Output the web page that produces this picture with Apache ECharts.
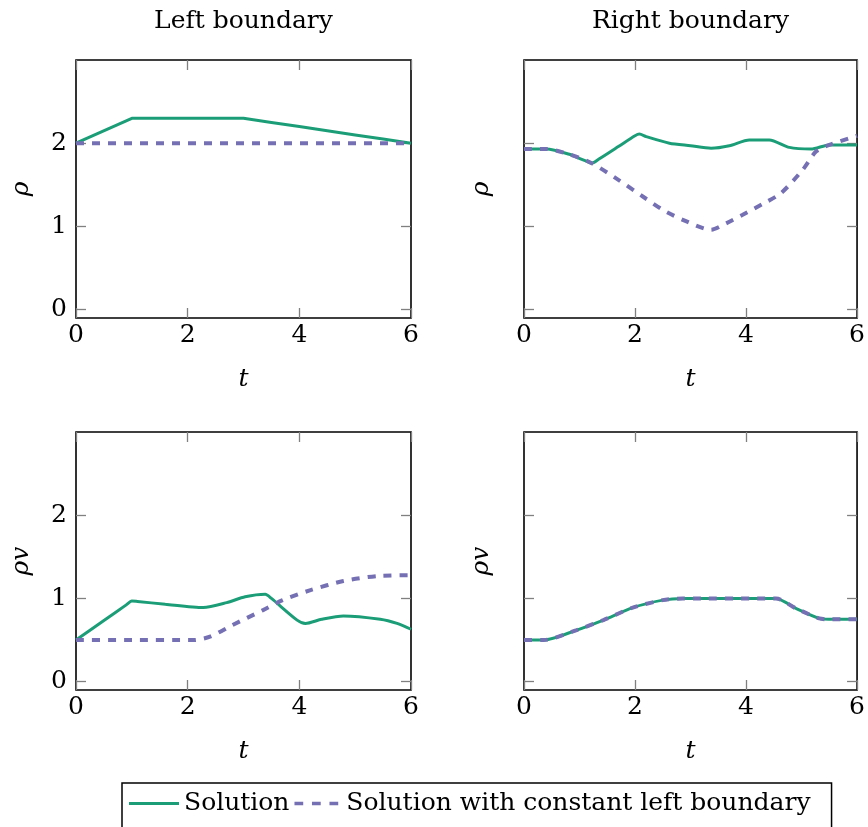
<!DOCTYPE html>
<html>
<head>
<meta charset="utf-8">
<script src="https://cdn.jsdelivr.net/npm/echarts@6/dist/echarts.min.js"></script>
<style>html,body{margin:0;padding:0;background:#fff;}#c{width:868px;height:827px;}</style>
</head>
<body>
<div id="c"></div>
<script>
// ---- data ----
const panelTitles = ['Left boundary', 'Right boundary'];
const seriesNames = ['Solution', 'Solution with constant left boundary'];
const xTicks = [0, 2, 4, 6];
const yTicks = [0, 1, 2];
const yLabelsTop = ['ρ', 'ρ'];
const yLabelsBottom = ['ρv', 'ρv'];

// top-left: rho, left boundary
const tlSolid = [[0,2.0],[1,2.3],[3,2.3],[3.5,2.25],[4,2.2],[4.5,2.15],[5,2.1],[5.5,2.05],[6,2.0]];
const tlDashed = [[0,2.0],[1,2.0],[2,2.0],[3,2.0],[4,2.0],[5,2.0],[6,2.0]];
// top-right: rho, right boundary
const trSolid = [[0,1.93],[0.4,1.93],[0.8,1.87],[1.1,1.79],[1.22,1.76],[1.35,1.81],[1.7,1.96],[2.0,2.09],[2.08,2.11],[2.2,2.08],[2.62,2.0],[3.0,1.97],[3.37,1.94],[3.7,1.97],[4.06,2.04],[4.42,2.04],[4.78,1.95],[5.17,1.93],[5.5,1.98],[6,1.98]];
const trDashed = [[0,1.93],[0.4,1.93],[0.8,1.87],[1.22,1.76],[1.7,1.56],[2.14,1.36],[2.5,1.2],[2.86,1.08],[3.37,0.96],[3.65,1.04],[3.94,1.14],[4.3,1.27],[4.63,1.4],[5.02,1.68],[5.26,1.9],[5.5,1.98],[6,2.09]];
// bottom-left: rho v, left boundary
const blSolid = [[0,0.5],[0.5,0.735],[0.9,0.923],[1,0.97],[1.1,0.964],[1.6,0.93],[2.28,0.89],[2.7,0.95],[3.03,1.02],[3.39,1.05],[3.5,1.0],[3.96,0.74],[4.11,0.70],[4.4,0.75],[4.79,0.79],[5.45,0.75],[5.75,0.7],[6,0.63]];
const blDashed = [[0,0.5],[1,0.5],[2.1,0.5],[2.4,0.54],[2.8,0.68],[3.35,0.86],[3.7,0.98],[4.2,1.1],[4.79,1.21],[5.4,1.27],[6,1.28]];
// bottom-right: rho v, right boundary
const brSolid = [[0,0.5],[0.35,0.5],[0.95,0.62],[1.43,0.74],[1.96,0.89],[2.5,0.98],[2.86,1.0],[4.54,1.0],[4.9,0.88],[5.32,0.76],[5.5,0.75],[6,0.75]];
const brDashed = [[0,0.5],[0.35,0.5],[0.95,0.62],[1.43,0.74],[1.96,0.89],[2.5,0.98],[2.86,1.0],[4.54,1.0],[4.9,0.88],[5.32,0.76],[5.5,0.75],[6,0.75]];

// ---- styling / layout ----
const FONT = 'DejaVu Serif';
const FS = 25;
const GREEN = '#1b9e77';
const PURPLE = '#7570b3';
const TICK = {show: true, inside: true, length: 10, lineStyle: {color: '#808080', width: 1.3}};
const NOLINE = {show: false, onZero: false};

const grids = [
  {left: 76, top: 60, width: 335, height: 258},
  {left: 524, top: 60, width: 334, height: 258},
  {left: 76, top: 432, width: 335, height: 258},
  {left: 524, top: 432, width: 334, height: 258}
].map(g => Object.assign({show: true, borderColor: '#000', borderWidth: 1.6, backgroundColor: 'transparent'}, g));

const xAxis = [], yAxis = [], series = [];
const panelData = [[tlSolid, tlDashed], [trSolid, trDashed], [blSolid, blDashed], [brSolid, brDashed]];

for (let i = 0; i < 4; i++) {
  const isLeft = i % 2 === 0;
  const isTop = i < 2;
  xAxis.push({
    gridIndex: i, type: 'value', position: 'bottom', min: 0, max: 6, interval: 2,
    axisLine: NOLINE, splitLine: {show: false}, axisTick: TICK,
    axisLabel: {color: '#000', fontFamily: FONT, fontSize: FS, margin: 5},
    name: 't', nameLocation: 'middle', nameGap: 49,
    nameTextStyle: {color: '#000', fontFamily: FONT, fontSize: FS, fontStyle: 'italic'}
  });
  xAxis.push({
    gridIndex: i, type: 'value', position: 'top', min: 0, max: 6, interval: 2,
    axisLine: NOLINE, splitLine: {show: false}, axisTick: TICK,
    axisLabel: {show: false},
    name: isTop ? panelTitles[i] : '', nameLocation: 'middle', nameGap: 26,
    nameTextStyle: {color: '#000', fontFamily: FONT, fontSize: FS}
  });
  yAxis.push({
    gridIndex: i, type: 'value', position: 'left', min: -0.1, max: 3,
    axisLine: NOLINE, splitLine: {show: false},
    axisTick: Object.assign({customValues: yTicks}, TICK),
    axisLabel: {show: isLeft, customValues: yTicks, color: '#000', fontFamily: FONT, fontSize: FS, margin: 9},
    name: isTop ? yLabelsTop[i % 2] : yLabelsBottom[i % 2], nameLocation: 'middle',
    nameGap: isLeft ? 42 : 30,
    nameTextStyle: {color: '#000', fontFamily: FONT, fontSize: FS, fontStyle: 'italic'}
  });
  yAxis.push({
    gridIndex: i, type: 'value', position: 'right', min: -0.1, max: 3,
    axisLine: NOLINE, splitLine: {show: false},
    axisTick: Object.assign({customValues: yTicks}, TICK),
    axisLabel: {show: false, customValues: yTicks}
  });
  const [solid, dashed] = panelData[i];
  const smooth = i === 0 ? false : 0.25;
  series.push({
    name: seriesNames[0], type: 'line', xAxisIndex: 2 * i, yAxisIndex: 2 * i,
    data: solid, showSymbol: false, symbol: 'none', smooth: smooth,
    lineStyle: {color: GREEN, width: 3}, itemStyle: {color: GREEN}, z: 2
  });
  series.push({
    name: seriesNames[1], type: 'line', xAxisIndex: 2 * i, yAxisIndex: 2 * i,
    data: dashed, showSymbol: false, symbol: 'none', smooth: smooth,
    lineStyle: {color: PURPLE, width: 4, type: [8, 8], cap: 'butt'}, itemStyle: {color: PURPLE}, z: 3
  });
}

const chart = echarts.init(document.getElementById('c'), null, {renderer: 'canvas'});
chart.setOption({
  backgroundColor: '#fff',
  animation: false,
  grid: grids,
  xAxis: xAxis,
  yAxis: yAxis,
  series: series,
  legend: {
    data: [
      {name: seriesNames[0], icon: 'path://M0,0h50v3h-50z', itemStyle: {color: GREEN}},
      {name: seriesNames[1], icon: 'path://M0,0h10v4h-10z M20,0h10v4h-10z M40,0h10v4h-10z', itemStyle: {color: PURPLE}}
    ],
    left: 122, top: 783, orient: 'horizontal',
    itemWidth: 50, itemHeight: 3.5, itemGap: 5,
    borderColor: '#000', borderWidth: 1.5, padding: [8, 21, 40, 7],
    textStyle: {color: '#000', fontFamily: FONT, fontSize: FS},
    selectedMode: false
  }
});
</script>
</body>
</html>
